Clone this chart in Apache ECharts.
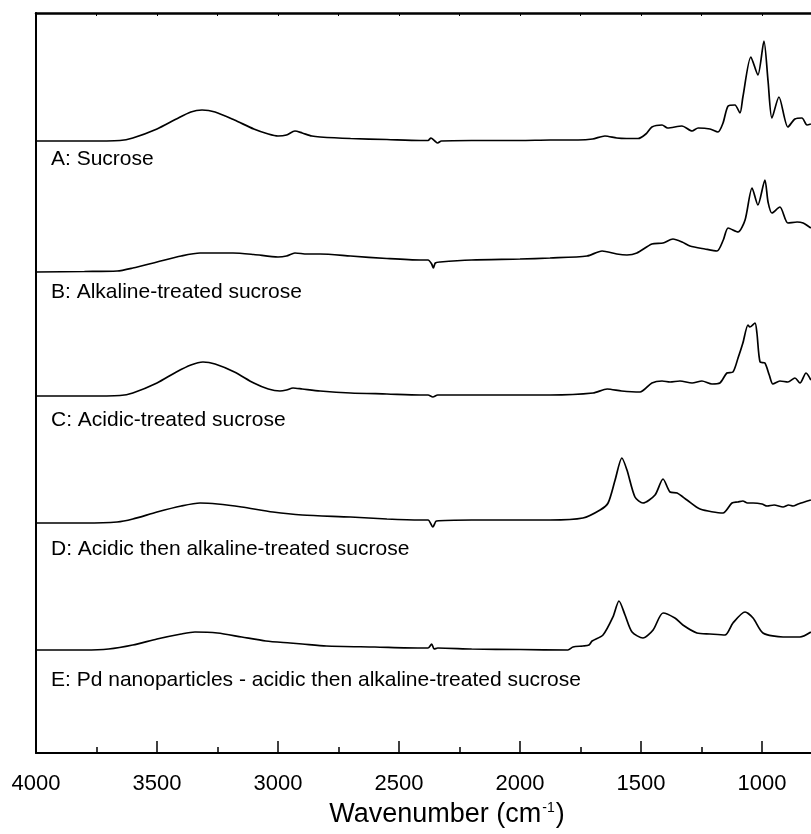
<!DOCTYPE html>
<html>
<head>
<meta charset="utf-8">
<title>FTIR spectra of sucrose samples</title>
<script src="https://cdn.jsdelivr.net/npm/echarts@6/dist/echarts.min.js"></script>
<style>
  html, body { margin: 0; padding: 0; background: #fff; }
  #chart { width: 811px; height: 834px; }
</style>
</head>
<body>
<div id="chart"></div>
<script>
// Spectrum labels (drawn under each trace)
const spectrumLabels = [
  'A: Sucrose',
  'B: Alkaline-treated sucrose',
  'C: Acidic-treated sucrose',
  'D: Acidic then alkaline-treated sucrose',
  'E: Pd nanoparticles - acidic then alkaline-treated sucrose'
];

// A: Sucrose — wavenumber (cm-1) and relative absorbance (a.u.)
const wnA = [4000, 3800, 3653, 3600, 3500, 3420, 3360, 3314, 3260, 3180, 3100, 3040, 3000, 2965, 2930, 2900, 2860, 2826, 2700, 2550, 2413, 2380, 2368, 2352, 2340, 2325, 2200, 2000, 1876, 1760, 1700, 1649, 1600, 1560, 1512, 1480, 1455, 1413, 1390, 1331, 1289, 1264, 1215, 1182, 1161, 1140, 1112, 1091, 1079, 1046, 1017, 992, 975, 959, 930, 893, 864, 835, 814, 798];
const valA = [0, 0, 0.5, 3, 12, 22, 29, 31, 29, 21, 12, 7, 5, 6, 10, 8, 5, 4, 2.5, 1.5, 0.5, 0.5, 3, 0, -2, 0, 0.5, 0.5, 1, 1, 2, 5, 3, 2.5, 2.5, 7, 14, 16, 13, 15, 10, 13, 12, 9, 18, 35, 36, 28, 44, 84, 66, 100, 60, 23, 44, 14, 22, 23, 16, 17];

// B: Alkaline-treated sucrose
const wnB = [4000, 3800, 3665, 3600, 3500, 3400, 3322, 3250, 3186, 3100, 3000, 2965, 2930, 2880, 2826, 2700, 2550, 2413, 2380, 2365, 2358, 2350, 2330, 2200, 2000, 1876, 1723, 1661, 1600, 1558, 1517, 1455, 1409, 1368, 1330, 1298, 1236, 1186, 1160, 1140, 1099, 1070, 1041, 1017, 988, 975, 959, 926, 893, 855, 830, 810, 798];
const valB = [0, 0.5, 1, 4, 10, 16, 19, 19, 19, 17.5, 15, 16, 19, 18, 18, 16, 13.5, 12, 12, 8, 4, 9, 10, 12, 13, 14, 16, 21, 18, 17, 19, 28, 29, 33, 30, 26, 23, 21, 32, 44, 40, 52, 84, 67, 92, 70, 59, 65, 49, 50, 49, 46, 44];

// C: Acidic-treated sucrose
const wnC = [4000, 3800, 3653, 3600, 3500, 3420, 3360, 3310, 3260, 3180, 3100, 3040, 2992, 2965, 2938, 2900, 2826, 2700, 2550, 2413, 2380, 2360, 2340, 2200, 2000, 1876, 1698, 1640, 1580, 1504, 1455, 1413, 1380, 1339, 1289, 1248, 1207, 1174, 1145, 1120, 1099, 1079, 1058, 1050, 1029, 1021, 1008, 988, 970, 955, 926, 893, 864, 843, 818, 798];
const valC = [0, 0, 0.5, 3, 13, 24, 31, 34, 32, 24, 13, 7, 5, 6, 8, 7, 5, 3, 2, 1, 1, -1, 1, 1, 1, 1, 3, 7, 5, 4, 13, 15, 14, 15, 13, 15, 12, 13, 23, 24, 38, 53, 71, 69, 73, 63, 34, 33, 21, 12, 15, 14, 18, 13, 23, 16];

// D: Acidic then alkaline-treated sucrose
const wnD = [4000, 3800, 3665, 3600, 3500, 3400, 3322, 3250, 3150, 3021, 2900, 2700, 2550, 2413, 2380, 2360, 2345, 2200, 2000, 1876, 1740, 1669, 1636, 1607, 1579, 1558, 1525, 1492, 1442, 1409, 1380, 1351, 1310, 1256, 1161, 1124, 1100, 1079, 1060, 1037, 1000, 979, 950, 913, 890, 872, 850, 798];
const valD = [0, 0, 1, 4, 11, 17, 20, 19, 16, 11, 8, 6, 4, 3, 3, -4, 2, 3, 3, 3, 5, 13, 20, 43, 65, 53, 26, 20, 28, 44, 31, 30, 23, 14, 10, 20, 21, 22, 20, 20, 19, 17, 18, 16, 18, 17, 19, 23];

// E: Pd nanoparticles on acidic then alkaline-treated sucrose
const wnE = [4000, 3800, 3700, 3600, 3500, 3400, 3343, 3250, 3150, 3050, 2950, 2900, 2800, 2600, 2413, 2380, 2365, 2355, 2340, 2200, 2000, 1802, 1781, 1740, 1715, 1702, 1657, 1616, 1591, 1566, 1537, 1492, 1450, 1409, 1360, 1327, 1269, 1215, 1153, 1120, 1070, 1037, 996, 913, 843, 798];
const valE = [0, 0, 1, 5, 11, 16, 18, 17, 13, 9, 7, 6, 4, 3, 2, 2, 6, 1, 2, 1, 0.5, 0, 3, 4, 5, 9, 15, 33, 49, 35, 18, 12, 20, 37, 32, 25, 17, 16, 15, 27, 38, 32, 17, 13, 13, 18];

// Vertical stacking offset for each trace (a.u.)
const stackOffsets = [612, 481, 357, 230, 103];

const spectra = [
  [wnA, valA], [wnB, valB], [wnC, valC], [wnD, valD], [wnE, valE]
];

const chart = echarts.init(document.getElementById('chart'), null, { renderer: 'canvas' });

const FONT = '"Liberation Sans", Arial, sans-serif';

const series = spectra.map(([wn, val], i) => ({
  name: spectrumLabels[i],
  type: 'line',
  showSymbol: false,
  smooth: 0.25,
  clip: true,
  lineStyle: { color: '#000', width: 1.7 },
  data: wn.map((w, k) => [w, stackOffsets[i] + val[k]]),
  silent: true
}));

const labelTops = [149, 282, 410, 539, 670];

chart.setOption({
  animation: false,
  backgroundColor: '#fff',
  grid: { left: 36, top: 13, width: 847, height: 740, containLabel: false, outerBoundsMode: 'none' },
  xAxis: [
    {
      type: 'value', position: 'bottom', inverse: true,
      min: 500, max: 4000, interval: 500,
      axisLine: { show: true, lineStyle: { color: '#000', width: 2 } },
      axisTick: { show: true, inside: true, length: 12, lineStyle: { color: '#000', width: 1.5 } },
      minorTick: { show: true, splitNumber: 2, length: 6, lineStyle: { color: '#000', width: 1.5 } },
      axisLabel: { color: '#000', fontSize: 22, fontFamily: FONT, margin: 20, formatter: v => String(v) },
      splitLine: { show: false }
    },
    {
      type: 'value', position: 'top', inverse: true,
      min: 500, max: 4000, interval: 250,
      axisLine: { show: true, lineStyle: { color: '#000', width: 2.5 } },
      axisTick: { show: true, inside: true, length: 3, lineStyle: { color: '#000', width: 1 } },
      axisLabel: { show: false },
      splitLine: { show: false }
    }
  ],
  yAxis: {
    type: 'value', min: 0, max: 740,
    axisLine: { show: true, lineStyle: { color: '#000', width: 2 } },
    axisTick: { show: false },
    axisLabel: { show: false },
    splitLine: { show: false }
  },
  series: series,
  graphic: spectrumLabels.map((t, i) => ({
    type: 'text',
    x: 51,
    y: labelTops[i],
    style: { text: t, fill: '#000', font: '21px ' + FONT }
  })).concat([{
    type: 'text',
    x: 447,
    y: 815,
    style: {
      text: '{a|Wavenumber (cm}{s|-1}{a|)}',
      fill: '#000',
      align: 'center',
      verticalAlign: 'middle',
      rich: {
        a: { fontSize: 27, fontFamily: FONT, fill: '#000' },
        s: { fontSize: 14, fontFamily: FONT, fill: '#000', verticalAlign: 'top', padding: [0, 1, 12, 1] }
      }
    }
  }])
});
</script>
</body>
</html>
